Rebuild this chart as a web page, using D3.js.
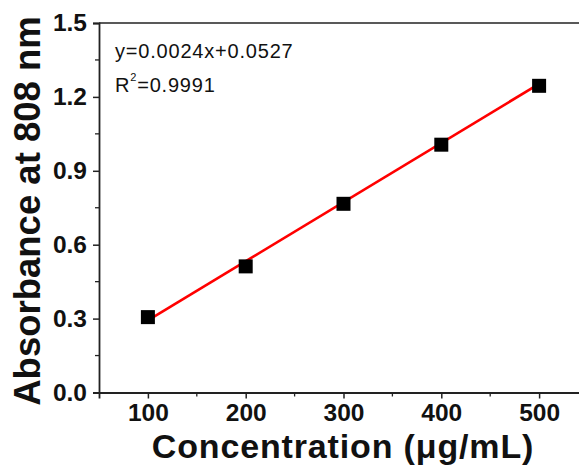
<!DOCTYPE html>
<html>
<head>
<meta charset="utf-8">
<script src="https://cdn.jsdelivr.net/npm/d3@7"></script>
<style>
  body { margin: 0; background: #fff; }
  svg { display: block; font-family: "Liberation Sans", Arial, sans-serif; }
</style>
</head>
<body>
<svg id="chart" width="579" height="470"></svg>
<script>
// measured points
const conc = [100, 200, 300, 400, 500];
const absorb = [0.306, 0.512, 0.766, 1.006, 1.245];
// fit line ends
const fitX = [100, 500];
const fitY = [0.293, 1.253];
const xTicks = [100, 200, 300, 400, 500];
const yTicks = [0.0, 0.3, 0.6, 0.9, 1.2, 1.5];
const eqText = 'y=0.0024x+0.0527';
const r2Text = '=0.9991';

const svg = d3.select('#chart');
const margin = { top: 23, left: 99, bottom: 392.5 };

const x = d3.scaleLinear().domain([50, 550]).range([margin.left, 588]);
const y = d3.scaleLinear().domain([0, 1.5]).range([margin.bottom, margin.top]);

// frame: top + left + bottom (right side runs off the page)
svg.append('line')
  .attr('x1', x(50)).attr('x2', 579)
  .attr('y1', y(1.5)).attr('y2', y(1.5))
  .attr('stroke', '#222').attr('stroke-width', 1.5);

const xAxis = (g) =>
  g.attr('transform', `translate(0,${margin.bottom})`)
    .call(d3.axisBottom(x).tickValues(xTicks).tickSize(6).tickPadding(5).tickFormat(d3.format('d')))
    .attr('font-size', 24.5).attr('font-weight', 'bold')
    .attr('font-family', '"Liberation Sans", Arial, sans-serif')
    .call((g) => g.select('.domain').attr('stroke', '#222').attr('stroke-width', 1.8))
    .call((g) => g.selectAll('.tick line').attr('stroke', '#222').attr('stroke-width', 1.5))
    .call((g) => g.selectAll('.tick text').attr('fill', '#111'));

const yAxis = (g) =>
  g.attr('transform', `translate(${margin.left},0)`)
    .call(d3.axisLeft(y).tickValues(yTicks).tickSize(6).tickPadding(6).tickFormat(d3.format('.1f')))
    .attr('font-size', 24.5).attr('font-weight', 'bold')
    .attr('font-family', '"Liberation Sans", Arial, sans-serif')
    .call((g) => g.select('.domain').attr('stroke', '#222').attr('stroke-width', 1.8))
    .call((g) => g.selectAll('.tick line').attr('stroke', '#222').attr('stroke-width', 1.5))
    .call((g) => g.selectAll('.tick text').attr('fill', '#111'));

svg.append('g').call(xAxis);
svg.append('g').call(yAxis);

// minor ticks
const xMinor = d3.range(150, 551, 100);
svg.append('g').selectAll('line').data(xMinor).join('line')
  .attr('x1', (d) => x(d)).attr('x2', (d) => x(d))
  .attr('y1', margin.bottom).attr('y2', margin.bottom + 4)
  .attr('stroke', '#222').attr('stroke-width', 1.3);
const yMinor = [0.15, 0.45, 0.75, 1.05, 1.35];
svg.append('g').selectAll('line').data(yMinor).join('line')
  .attr('x1', margin.left - 4).attr('x2', margin.left)
  .attr('y1', (d) => y(d)).attr('y2', (d) => y(d))
  .attr('stroke', '#222').attr('stroke-width', 1.3);

// fit line
svg.append('path')
  .datum(fitX.map((v, i) => [v, fitY[i]]))
  .attr('fill', 'none')
  .attr('stroke', '#ff0000')
  .attr('stroke-width', 2.6)
  .attr('d', d3.line().x((d) => x(d[0])).y((d) => y(d[1])));

// square markers
const sz = 14;
svg.append('g').selectAll('rect').data(conc).join('rect')
  .attr('x', (d) => x(d) - sz / 2)
  .attr('y', (d, i) => y(absorb[i]) - sz / 2)
  .attr('width', sz).attr('height', sz)
  .attr('fill', '#000');

// equation
svg.append('text')
  .attr('x', 115).attr('y', 58)
  .attr('font-size', 20).attr('letter-spacing', 0.8).attr('fill', '#111')
  .text(eqText);
const r2 = svg.append('text')
  .attr('x', 115).attr('y', 92)
  .attr('font-size', 20).attr('letter-spacing', 0.8).attr('fill', '#111');
r2.append('tspan').text('R');
r2.append('tspan').attr('dy', -11).attr('font-size', 11).text('2');
r2.append('tspan').attr('dy', 11).text(r2Text);

// axis titles
svg.append('text')
  .attr('x', 343).attr('y', 458)
  .attr('text-anchor', 'middle')
  .attr('font-size', 34).attr('font-weight', 'bold').attr('letter-spacing', 0.85)
  .attr('fill', '#111')
  .text('Concentration (μg/mL)');

svg.append('text')
  .attr('transform', 'translate(40,211) rotate(-90)')
  .attr('text-anchor', 'middle')
  .attr('font-size', 36.5).attr('font-weight', 'bold')
  .attr('fill', '#111')
  .text('Absorbance at 808 nm');
</script>
</body>
</html>
